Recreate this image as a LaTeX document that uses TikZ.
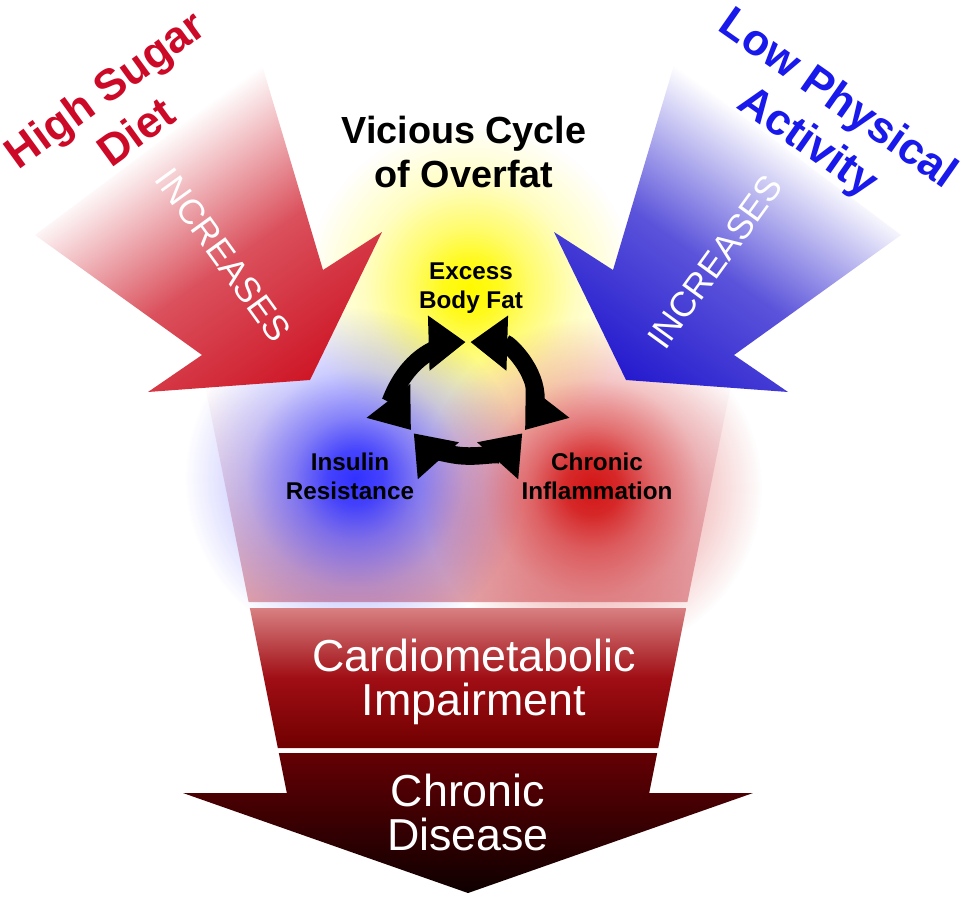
\documentclass[tikz,border=0pt]{standalone}
\usepackage{fontspec}
\setmainfont{Liberation Sans}
\usetikzlibrary{arrows.meta,fadings}
\definecolor{redA}{RGB}{206,22,38}
\definecolor{blueA}{RGB}{36,26,206}
\definecolor{txtred}{RGB}{204,10,40}
\definecolor{txtblue}{RGB}{25,25,235}
\definecolor{funMid}{RGB}{238,214,220}
\definecolor{funBot}{RGB}{226,160,165}
\definecolor{cardTop}{RGB}{216,128,130}
\definecolor{cardMid}{RGB}{160,14,20}
\definecolor{cardBot}{RGB}{112,0,0}
\definecolor{chrTop}{RGB}{100,0,4}
\definecolor{chrBot}{RGB}{14,0,0}
\definecolor{glowY}{RGB}{255,250,0}
\definecolor{glowB}{RGB}{50,50,255}
\definecolor{glowR}{RGB}{212,22,22}
\pgfdeclareradialshading{glowshade}{\pgfpointorigin}{color(0bp)=(white); color(4bp)=(white!90!black); color(9bp)=(white!58!black); color(16bp)=(white!24!black); color(25bp)=(black); color(50bp)=(black)}
\tikzfading[name=glow, shading=glowshade]
\begin{document}
\begin{tikzpicture}[x=0.02cm,y=-0.02cm,
  ttl/.style={font=\fontsize{21.5}{25.5}\selectfont\bfseries, align=center, text=black, inner sep=0pt},
  cyclbl/.style={font=\fontsize{13.8}{16.4}\selectfont\bfseries, align=center, text=black, inner sep=0pt},
  causelbl/.style={font=\fontsize{25}{30}\selectfont\bfseries, align=center, inner sep=0pt},
  inclbl/.style={font=\fontsize{20}{24}\selectfont, text=white, inner sep=0pt},
  stagelbl/.style={font=\fontsize{25.5}{25}\selectfont, text=white, align=center, inner sep=0pt},
  cycarrow/.style={draw=black, line width=10pt, {Triangle[length=21pt,width=30pt]}-{Triangle[length=21pt,width=30pt]}}
]
\useasboundingbox (0,0) rectangle (962,897);
\fill[white] (0,0) rectangle (962,897);

% upper funnel section
\shade[top color=white, bottom color=funBot, middle color=funMid]
  (204,380) -- (732,380) -- (687.4,602) -- (248.6,602) -- cycle;

% glows
\fill[glowY, path fading=glow] (470,288) circle[radius=3.3cm];
\fill[glowB, path fading=glow] (355,478) circle[radius=3.4cm];
\fill[glowR, path fading=glow] (592,488) circle[radius=3.4cm];

% lower funnel sections
\shade[top color=cardTop, bottom color=cardBot, middle color=cardMid]
  (249.8,608) -- (686.2,608) -- (658.2,748) -- (277.8,748) -- cycle;
\shade[top color=chrTop, bottom color=chrBot]
  (278.8,753) -- (657.2,753) -- (649.2,793) -- (753,793) -- (468,893) -- (183,793) -- (286.8,793) -- cycle;

% red arrow
\begin{scope}[transform canvas={rotate around={35.1:(229,265)}}]
  \shade[rotate around={-35.1:(229,265)}, top color=white, bottom color=redA, middle color=redA!75]
    (262,65) -- (323,270) -- (382,232) -- (310,380) -- (148,392) -- (202,355) -- (35,235) -- cycle;
\end{scope}
% blue arrow
\begin{scope}[transform canvas={rotate around={-35.1:(707,265)}}]
  \shade[rotate around={35.1:(707,265)}, top color=white, bottom color=blueA, middle color=blueA!75]
    (674,65) -- (613,270) -- (554,232) -- (626,380) -- (788,392) -- (734,355) -- (901,235) -- cycle;
\end{scope}

% cycle
\coordinate (cc) at (468,399);
\draw[cycarrow] (cc) ++(213:1.36cm and 1.14cm) arc[start angle=213, end angle=92, x radius=1.36cm, y radius=1.14cm];
\draw[cycarrow] (cc) ++(88:1.36cm and 1.14cm) arc[start angle=88, end angle=-33, x radius=1.36cm, y radius=1.14cm];
\draw[cycarrow] (cc) ++(-37:1.36cm and 1.14cm) arc[start angle=-37, end angle=-143, x radius=1.36cm, y radius=1.14cm];

% texts
\node[ttl] (title) at (464,152) {Vicious Cycle\\of Overfat};
\node[causelbl, text=txtred, rotate=36] (sugar) at (120,110) {High Sugar\\Diet};
\node[causelbl, text=txtblue, rotate=-35] (activity) at (822,122) {Low Physical\\Activity};
\node[inclbl, rotate=-54] (incred) at (223,255) {INCREASES};
\node[inclbl, rotate=54] (incblue) at (715,262) {INCREASES};
\node[cyclbl] (fat) at (471,288) {Excess\\Body Fat};
\node[cyclbl] (insulin) at (350,476) {Insulin\\Resistance};
\node[cyclbl] (inflam) at (597,476) {Chronic\\Inflammation};
\node[stagelbl] (cardio) at (474,682) {Cardiometabolic\\Impairment};
\node[stagelbl] (disease) at (468,812) {Chronic\\Disease};
\end{tikzpicture}
\end{document}
